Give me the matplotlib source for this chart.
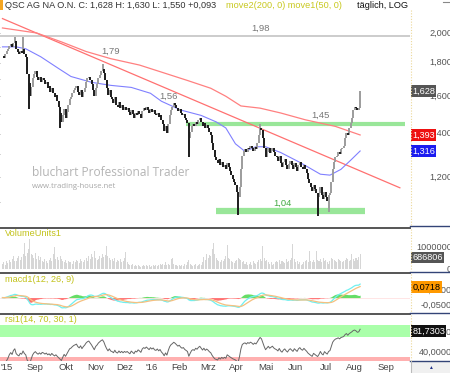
import numpy as np
import pandas as pd
import matplotlib
matplotlib.use('Agg')
import matplotlib.pyplot as plt
from matplotlib import transforms
from matplotlib.lines import Line2D
from matplotlib.patches import Rectangle

plt.rcParams['font.family'] = ['Liberation Sans', 'DejaVu Sans']

W, H = 450, 373

# trading days (Xetra holidays removed)
days = pd.bdate_range('2015-07-29', '2016-09-30')
holidays = pd.to_datetime(['2015-12-24', '2015-12-25', '2015-12-31', '2016-01-01',
                           '2016-03-25', '2016-03-28'])
days = days[~days.isin(holidays)]

close = [
    1.843, 1.830, 1.858, 1.878, 1.891, 1.911, 1.924, 1.904, 1.931, 1.944,
    1.891, 1.871, 1.858, 1.878, 1.865, 1.891, 1.858, 1.838, 1.732, 1.673,
    1.600, 1.652, 1.702, 1.732, 1.749, 1.714, 1.690, 1.708, 1.679, 1.702,
    1.690, 1.667, 1.679, 1.644, 1.655, 1.622, 1.644, 1.615, 1.592, 1.604,
    1.570, 1.538, 1.506, 1.459, 1.493, 1.526, 1.479, 1.511, 1.548, 1.581,
    1.592, 1.615, 1.633, 1.644, 1.655, 1.622, 1.604, 1.633, 1.592, 1.621,
    1.644, 1.679, 1.702, 1.714, 1.690, 1.667, 1.633, 1.598, 1.644, 1.667,
    1.702, 1.726, 1.749, 1.763, 1.738, 1.690, 1.644, 1.604, 1.633, 1.592,
    1.581, 1.559, 1.592, 1.548, 1.538, 1.564, 1.532, 1.548, 1.522, 1.538,
    1.522, 1.532, 1.511, 1.493, 1.522, 1.500, 1.479, 1.506, 1.493, 1.516,
    1.500, 1.479, 1.516, 1.532, 1.522, 1.538, 1.522, 1.506, 1.527, 1.511,
    1.522, 1.500, 1.493, 1.506, 1.485, 1.497, 1.467, 1.447, 1.412, 1.436,
    1.402, 1.447, 1.493, 1.522, 1.538, 1.559, 1.548, 1.532, 1.516, 1.527,
    1.506, 1.493, 1.500, 1.479, 1.467, 1.454, 1.379, 1.408, 1.436, 1.447,
    1.436, 1.459, 1.447, 1.467, 1.479, 1.459, 1.436, 1.454, 1.428, 1.441,
    1.428, 1.408, 1.394, 1.355, 1.320, 1.286, 1.273, 1.260, 1.277, 1.251,
    1.264, 1.242, 1.251, 1.233, 1.260, 1.242, 1.225, 1.208, 1.191, 1.178,
    1.166, 1.138, 1.118, 1.158, 1.233, 1.295, 1.314, 1.323, 1.309, 1.332,
    1.323, 1.341, 1.332, 1.318, 1.336, 1.327, 1.355, 1.391, 1.428, 1.416,
    1.379, 1.332, 1.286, 1.309, 1.332, 1.305, 1.318, 1.332, 1.309, 1.295,
    1.286, 1.268, 1.295, 1.260, 1.242, 1.264, 1.277, 1.251, 1.233, 1.255,
    1.268, 1.251, 1.233, 1.260, 1.242, 1.225, 1.251, 1.264, 1.242, 1.233,
    1.251, 1.233, 1.216, 1.191, 1.174, 1.158, 1.142, 1.166, 1.150, 1.134,
    1.118, 1.134, 1.158, 1.126, 1.110, 1.138, 1.118, 1.103, 1.126, 1.134,
    1.178, 1.233, 1.264, 1.286, 1.295, 1.309, 1.300, 1.323, 1.332, 1.341,
    1.379, 1.404, 1.391, 1.428, 1.454, 1.479, 1.522, 1.538, 1.532, 1.522,
    1.535, 1.628,
]

# volume in thousand shares
volume = [
    250, 300, 200, 350, 280, 400, 320, 450, 600, 380,
    350, 500, 600, 400, 550, 700, 1200, 600, 750, 900,
    1360, 700, 650, 500, 750, 450, 600, 400, 550, 350,
    300, 450, 350, 280, 400, 500, 380, 700, 1000, 450,
    550, 400, 600, 450, 350, 300, 400, 280, 350, 300,
    320, 250, 380, 300, 400, 350, 280, 450, 350, 300,
    400, 500, 350, 600, 450, 700, 550, 800, 500, 400,
    450, 600, 500, 700, 550, 650, 1050, 600, 500, 400,
    450, 350, 500, 300, 400, 350, 450, 300, 380, 500,
    780, 300, 250, 200, 180, 220, 150, 200, 120, 180,
    150, 100, 130, 170, 120, 160, 140, 200, 110, 130,
    170, 150, 200, 130, 180, 250, 160, 220, 180, 300,
    200, 250, 180, 450, 500, 250, 200, 180, 150, 200,
    150, 200, 120, 250, 180, 300, 400, 250, 200, 150,
    180, 220, 150, 200, 250, 180, 300, 550, 400, 700,
    500, 650, 600, 900, 1200, 700, 500, 400, 350, 300,
    400, 350, 450, 600, 1100, 500, 450, 350, 300, 280,
    350, 400, 500, 450, 400, 300, 350, 250, 300, 200,
    250, 300, 200, 350, 280, 250, 300, 400, 450, 350,
    1050, 500, 350, 400, 300, 250, 300, 200, 250, 300,
    350, 300, 400, 250, 350, 300, 280, 450, 300, 350,
    400, 500, 1150, 450, 300, 350, 250, 300, 200, 250,
    300, 350, 400, 300, 820, 350, 300, 400, 300, 820,
    400, 350, 450, 300, 500, 350, 400, 300, 250, 350,
    500, 450, 400, 350, 300, 450, 400, 350, 300, 350,
    400, 500, 450, 350, 400, 700, 450, 350, 500, 400,
    550, 686.806,
]

# extreme wicks visible in the chart (bar index -> price)
wick_hi = {9: 1.975, 15: 1.975, 73: 1.79, 125: 1.56, 188: 1.45, 261: 1.630}
wick_lo = {19: 1.53, 42: 1.43, 136: 1.29, 172: 1.05, 230: 1.045, 238: 1.06, 261: 1.550}

# moving averages (bar index, value)
ma200_idx = [0, 25, 43, 61, 79, 100, 116, 135, 152, 163, 174, 188, 203, 221, 243, 261]
ma200_val = [2.036, 2.000, 1.938, 1.873, 1.826, 1.785, 1.741, 1.690, 1.644, 1.598,
             1.544, 1.532, 1.506, 1.470, 1.436, 1.393]
ma50_idx = [0, 10, 17, 28, 41, 50, 65, 79, 94, 108, 116, 130, 145, 156, 163, 170,
            177, 185, 192, 203, 217, 232, 239, 247, 254, 261]
ma50_val = [1.904, 1.904, 1.891, 1.838, 1.763, 1.714, 1.679, 1.661, 1.649, 1.615,
            1.570, 1.522, 1.493, 1.459, 1.428, 1.350, 1.314, 1.336, 1.336, 1.309,
            1.264, 1.212, 1.208, 1.233, 1.273, 1.316]

trend_idx = [0, 290]
trend_val = [2.105, 1.155]

level_top = 1.98
level_mid = 1.45
level_low = 1.065

month_labels = ["'15", 'Sep', 'Okt', 'Nov', 'Dez', "'16", 'Feb', 'Mrz', 'Apr', 'Mai',
                'Jun', 'Jul', 'Aug', 'Sep']

last_close, last_ma200, last_ma50 = 1.628, 1.393, 1.316
last_vol, last_macd, last_rsi = 686806, 0.0718, 81.7303

# ---------------------------------------------------------------
n = len(close)
x = np.arange(n)
c = np.array(close)
o = np.r_[c[0], c[:-1]]
hi = np.maximum(o, c)
lo = np.minimum(o, c)
for k, v in wick_hi.items():
    hi[k] = max(hi[k], v)
for k, v in wick_lo.items():
    lo[k] = min(lo[k], v)
up = c >= o

s = pd.Series(c)
macd = s.ewm(span=12, adjust=False).mean() - s.ewm(span=26, adjust=False).mean()
sig = macd.ewm(span=9, adjust=False).mean()
hist = macd - sig
d = s.diff()
ag = d.clip(lower=0).ewm(alpha=1 / 14, adjust=False).mean()
al = (-d.clip(upper=0)).ewm(alpha=1 / 14, adjust=False).mean()
rsi = 100 - 100 / (1 + ag / al)

fig = plt.figure(figsize=(W / 100, H / 100), dpi=100)
fig.patch.set_facecolor('white')


def box(top, bottom):
    return [0, 1 - bottom / H, 410 / W, (bottom - top) / H]


ax = fig.add_axes(box(10, 227))
axv = fig.add_axes(box(228, 272), sharex=ax)
axm = fig.add_axes(box(273, 313), sharex=ax)
axr = fig.add_axes(box(314, 361), sharex=ax)

XMIN, XMAX = -1.8, 297.4
for a in (ax, axv, axm, axr):
    a.set_xlim(XMIN, XMAX)
    for sp in a.spines.values():
        sp.set_visible(False)
    a.tick_params(bottom=False, labelbottom=False, left=False, labelleft=False,
                  right=False, labelright=False)

# ---- price panel
ax.set_yscale('log')
ax.set_ylim(1.005, 2.170)
ax.set_yticks([1.1, 1.2, 1.3, 1.4, 1.5, 1.6, 1.7, 1.8, 1.9, 2.0])
ax.yaxis.set_minor_locator(matplotlib.ticker.NullLocator())
ax.tick_params(left=True, length=2, color='#999999', width=0.6)

ax.plot([XMIN, XMAX], [level_top, level_top], color='#cccccc', lw=1.4, zorder=1)
ax.plot([134, 294], [level_mid, level_mid], color='#99e699', lw=3, zorder=1,
        solid_capstyle='butt')
ax.plot([155.5, 264.5], [level_low, level_low], color='#99e699', lw=4.5, zorder=1,
        solid_capstyle='butt')
ax.plot(trend_idx, trend_val, color='#ff7070', lw=0.9, zorder=2)
ax.plot(ma200_idx, ma200_val, color='#ff8080', lw=0.9, zorder=2)
ax.plot(ma50_idx, ma50_val, color='#8080ff', lw=0.8, zorder=2)

ax.vlines(x[up], lo[up], hi[up], color='#9c9c9c', lw=1.4, zorder=3)
ax.vlines(x[~up], lo[~up], hi[~up], color='#1c1c1c', lw=1.4, zorder=3)

lab = dict(ha='center', va='center', fontsize=6.8, color='#777777')
ax.text(188, 2.035, '1,98', **lab)
ax.text(79, 1.873, '1,79', **lab)
ax.text(121, 1.596, '1,56', **lab)
ax.text(232, 1.494, '1,45', **lab)
ax.text(204, 1.094, '1,04', ha='center', va='center', fontsize=6.8, color='#44aa44')

fig.text(32 / W, 1 - 173 / H, 'bluchart Professional Trader', fontsize=8.6,
         color='#b4b4b4', va='center', ha='left', family=['Open Sans', 'DejaVu Sans'])
fig.text(32 / W, 1 - 187 / H, 'www.trading-house.net', fontsize=5.6,
         color='#a8a8a8', va='center', ha='left', family=['Open Sans', 'DejaVu Sans'])

# ---- volume panel
axv.bar(x, volume, width=0.75, color='#d6d6d6')
axv.set_ylim(-136, 1864)

# ---- macd panel
axm.axhline(0, color='#ffe0e0', lw=0.6, zorder=1)
axm.fill_between(x, 0, hist.where(hist > 0, 0), color='#66dd66', lw=0, zorder=2)
axm.fill_between(x, 0, hist.where(hist < 0, 0), color='#ff7070', lw=0, zorder=2)
axm.plot(x, macd, color='#70f0f0', lw=0.9, zorder=3)
axm.plot(x, sig, color='#f5c080', lw=0.9, zorder=3)
axm.set_ylim(-0.104, 0.166)

# ---- rsi panel
axr.axhspan(70, 93, color='#aaffaa', lw=0, zorder=1)
axr.axhspan(22.1, 30, color='#ffb0b0', lw=0, zorder=1)
axr.plot(x[1:], rsi[1:], color='#666666', lw=0.7, zorder=3)
axr.set_ylim(22.1, 115.5)

# panel titles
tcol = '#c2c21a'
fig.text(5 / W, 1 - 234 / H, 'VolumeUnits1', fontsize=6.6, color=tcol, va='center')
fig.text(5 / W, 1 - 279 / H, 'macd1(12, 26, 9)', fontsize=6.6, color=tcol, va='center')
fig.text(5 / W, 1 - 320 / H, 'rsi1(14, 70, 30, 1)', fontsize=6.6, color=tcol, va='center')

# separators
for yy in (227.5, 272.5, 313.5):
    fig.add_artist(Line2D([0, 410 / W], [1 - yy / H] * 2, color='#555555', lw=1.4))
for yy in (226.5, 272, 313, 360.5):
    fig.add_artist(Line2D([410 / W, 1], [1 - yy / H] * 2, color='#334477', lw=1.0))
for t, b in ((10, 226), (229, 271), (274, 312), (315, 360)):
    fig.add_artist(Line2D([410.5 / W] * 2, [1 - t / H, 1 - b / H], color='#ecd89a',
                          lw=0.8, ls=(0, (1, 1.5))))
fig.add_artist(Line2D([410.5 / W] * 2, [0, 1 - 361 / H], color='#bbbbbb', lw=0.8))
fig.add_artist(Line2D([443 / W, 449 / W], [1 - 2 / H] * 2, color='#888888', lw=0.8))

# right axis labels
rl = dict(ha='right', va='center', fontsize=6.6, color='#555555')
for a, vals, fmt in ((ax, [2.0, 1.8, 1.6, 1.4, 1.2], '{:.3f}'),
                     (axm, [0.05, -0.05], '{:.4f}'),
                     (axr, [80, 40], '{:.4f}')):
    tr = transforms.blended_transform_factory(fig.transFigure, a.transData)
    for v in vals:
        a.text(452 / W, v, fmt.format(v).replace('.', ','), transform=tr, clip_on=False, **rl)
trv = transforms.blended_transform_factory(fig.transFigure, axv.transData)
axv.text(452 / W, 1000, '1000000', transform=trv, clip_on=False, **rl)
axv.text(452 / W, 0, '0', transform=trv, clip_on=False, **rl)


def tag(a, v, txt, fc, tc='white'):
    tr = transforms.blended_transform_factory(fig.transFigure, a.transData)
    a.text(412.5 / W, v, txt, transform=tr, clip_on=False, ha='left', va='center',
           fontsize=6.6, color=tc, zorder=10,
           bbox=dict(boxstyle='square,pad=0.12', fc=fc, ec='none'))


tag(ax, last_close, '1,628', '#555555')
tag(ax, last_ma200, '1,393', '#ee1111')
tag(ax, last_ma50, '1,316', '#1c1cf0')
tag(axv, last_vol / 1000 - 180, str(last_vol), '#555555')
tag(axm, last_macd, '0,0718', '#ff9900', 'black')
tag(axr, last_rsi, '81,7303', '#111111')

# x labels (first trading day of each month)
month_starts = pd.Series(np.arange(len(days)), index=days).groupby(
    [days.year, days.month]).first().values[1:15]
for i, m in zip(month_starts, month_labels):
    xf = (2.5 + 1.37 * i) / W
    fig.text(xf, 1 - 368 / H, m, ha='center', va='center', fontsize=6.8, color='#444444')

fig.add_artist(Rectangle((411 / W, 0), 39 / W, 1 - 362 / H, color='#f0f0f0', lw=0))
fig.text(430 / W, 1 - 367.5 / H, '\u25b2', ha='center', va='center', fontsize=3.5,
         color='#223388')

# header
fig.add_artist(Rectangle((0, 1 - 10 / H), 2.5 / W, 10 / H, color='#f5a623', lw=0))
fig.text(5 / W, 1 - 5 / H, 'QSC AG NA O.N. C: 1,628 H: 1,630 L: 1,550 +0,093',
         fontsize=6.6, color='#333333', va='center', ha='left')
fig.text(226 / W, 1 - 5 / H, 'move2(200, 0) move1(50, 0)', fontsize=6.6,
         color='#c8c81e', va='center', ha='left')
fig.text(357 / W, 1 - 5 / H, 't\u00e4glich, LOG', fontsize=6.6, color='#111111',
         va='center', ha='left')

fig.savefig('out.png', dpi=100)
